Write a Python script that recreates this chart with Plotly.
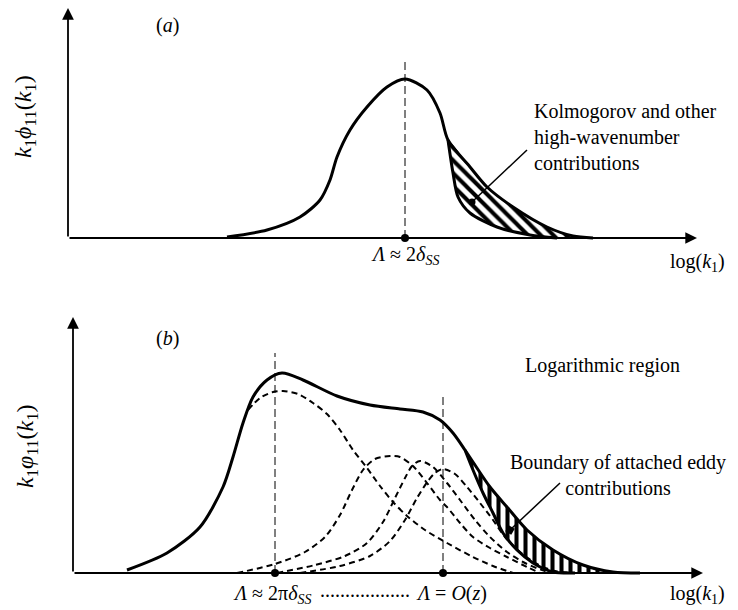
import plotly.graph_objects as go

# ---------------- data (schematic; arbitrary units) -------------
# panel (a): premultiplied spectrum, x = log(k1) position, y = amplitude
A_OUTER_X = [159, 199, 232, 252, 262, 269, 282, 299, 319, 337, 359, 372, 380, 402, 419, 445, 479, 505, 525]
A_OUTER_Y = [1, 8, 21, 38, 58, 81, 108, 131, 151, 159, 148, 125, 98, 71, 51, 31, 11, 2, 0]
A_INNER_X = [380, 385, 390, 402, 429, 462, 489]
A_INNER_Y = [98, 65, 41, 25, 11, 3, 0]
A_PEAK_X = 337
A_PEAK_TOP = 178

# panel (b)
B_OUTER_X = [54, 94, 127, 150, 160, 170, 180, 194, 209, 230, 264, 297, 327, 350, 367, 380, 392, 400, 417, 434, 454, 480, 510, 540, 567]
B_OUTER_Y = [3, 20, 46, 86, 116, 150, 176, 193, 200, 193, 177, 168, 164, 161, 153, 140, 123, 111, 86, 66, 43, 23, 8, 1, 0]
B_INNER_X = [392, 400, 410, 420, 430, 444, 460, 480, 502]
B_INNER_Y = [123, 103, 80, 60, 40, 23, 10, 1, 0]

B_LARGE_X = [175, 187, 200, 210, 225, 240, 254, 267, 280, 294, 307, 320, 334, 352, 374, 400, 420, 440]
B_LARGE_Y = [163, 175, 181, 182, 179, 170, 159, 143, 123, 105, 87, 71, 57, 43, 30, 16, 7, 0]
B_E1_X = [164, 202, 232, 252, 267, 279, 290, 302, 317, 327, 340, 354, 367, 374, 387, 400, 417, 434, 454, 467]
B_E1_Y = [0, 9, 21, 36, 58, 83, 103, 114, 117, 116, 107, 90, 73, 66, 50, 36, 25, 16, 6, 0]
B_E2_X = [204, 242, 272, 294, 310, 322, 332, 339, 347, 360, 374, 387, 402, 417, 434, 452, 472, 487]
B_E2_Y = [0, 8, 17, 30, 51, 75, 95, 107, 112, 106, 90, 73, 53, 36, 21, 10, 2, 0]
B_E3_X = [227, 267, 297, 317, 332, 344, 355, 362, 370, 382, 394, 407, 420, 432, 447, 464, 482, 502]
B_E3_Y = [0, 7, 17, 32, 53, 75, 92, 100, 104, 99, 86, 70, 53, 36, 21, 9, 2, 0]
B_MARK_X = [202, 370]
B_MARK_TOP = [220, 180]

# text
A_NOTE_LINES = ["Kolmogorov and other", "high-wavenumber", "contributions"]
B_NOTE_LINES = ["Boundary of attached eddy", "contributions"]

FONT = dict(family="Liberation Serif", size=20, color="black")
YFONT = dict(family="Liberation Serif", size=24, color="black")

fig = go.Figure()


def add_curve(x, y, xa, ya, width=3, dash=None):
    fig.add_trace(go.Scatter(x=x, y=y, xaxis=xa, yaxis=ya, mode="lines",
                             line=dict(color="black", width=width, dash=dash,
                                       shape="spline", smoothing=0.8),
                             hoverinfo="skip"))


def add_hatch(ox, oy, ix, iy, xa, ya, shape):
    k = ox.index(ix[0])
    px = ox[k:] + ix[::-1]
    py = oy[k:] + iy[::-1]
    fig.add_trace(go.Scatter(x=px, y=py, xaxis=xa, yaxis=ya, mode="lines", fill="toself",
                             line=dict(width=0, color="black", shape="spline", smoothing=0.8),
                             fillcolor="white",
                             fillpattern=dict(shape=shape, fgcolor="black", bgcolor="white",
                                              fgopacity=1, size=9, solidity=0.45),
                             hoverinfo="skip"))


# ---- panel (a)
add_hatch(A_OUTER_X, A_OUTER_Y, A_INNER_X, A_INNER_Y, "x", "y", "\\")
fig.add_trace(go.Scatter(x=[A_PEAK_X, A_PEAK_X], y=[0, A_PEAK_TOP], xaxis="x", yaxis="y", mode="lines",
                         line=dict(color="black", width=1, dash="8px,4px"), hoverinfo="skip"))
add_curve(A_OUTER_X, A_OUTER_Y, "x", "y", width=3)
add_curve(A_INNER_X, A_INNER_Y, "x", "y", width=3)
fig.add_trace(go.Scatter(x=[A_PEAK_X], y=[0], xaxis="x", yaxis="y", mode="markers",
                         marker=dict(color="black", size=8), hoverinfo="skip"))
# pointer (a)
fig.add_trace(go.Scatter(x=[459, 404], y=[88, 36], xaxis="x", yaxis="y", mode="lines",
                         line=dict(color="black", width=1.5), hoverinfo="skip"))
fig.add_trace(go.Scatter(x=[404], y=[36], xaxis="x", yaxis="y", mode="markers",
                         marker=dict(color="black", size=7), hoverinfo="skip"))

# ---- panel (b)
add_hatch(B_OUTER_X, B_OUTER_Y, B_INNER_X, B_INNER_Y, "x2", "y2", "|")
for mx, mt in zip(B_MARK_X, B_MARK_TOP):
    fig.add_trace(go.Scatter(x=[mx, mx], y=[0, mt], xaxis="x2", yaxis="y2", mode="lines",
                             line=dict(color="black", width=1, dash="8px,4px"), hoverinfo="skip"))
for ex, ey in [(B_LARGE_X, B_LARGE_Y), (B_E1_X, B_E1_Y), (B_E2_X, B_E2_Y), (B_E3_X, B_E3_Y)]:
    add_curve(ex, ey, "x2", "y2", width=2, dash="6px,4px")
add_curve(B_OUTER_X, B_OUTER_Y, "x2", "y2", width=3)
add_curve(B_INNER_X, B_INNER_Y, "x2", "y2", width=3)
fig.add_trace(go.Scatter(x=B_MARK_X, y=[0, 0], xaxis="x2", yaxis="y2", mode="markers",
                         marker=dict(color="black", size=8), hoverinfo="skip"))
fig.add_trace(go.Scatter(x=[487, 437], y=[90, 43], xaxis="x2", yaxis="y2", mode="lines",
                         line=dict(color="black", width=1.5), hoverinfo="skip"))
fig.add_trace(go.Scatter(x=[437], y=[43], xaxis="x2", yaxis="y2", mode="markers",
                         marker=dict(color="black", size=7, symbol="square", angle=30), hoverinfo="skip"))

ann = []


def arrow(xr, yr, x, y):
    ann.append(dict(x=x, y=y, ax=0, ay=0, xref=xr, yref=yr, axref=xr, ayref=yr, text="",
                    showarrow=True, arrowhead=2, arrowsize=1.3, arrowwidth=1.8, arrowcolor="black"))


def text(xr, yr, x, y, t, xanchor="center", angle=0, font=FONT, align="center"):
    ann.append(dict(x=x, y=y, xref=xr, yref=yr, text=t, showarrow=False, font=font,
                    xanchor=xanchor, yanchor="middle", textangle=angle, align=align))


# axes arrows
arrow("x", "y", 0, 230)
arrow("x", "y", 629, 0)
arrow("x2", "y2", 0, 256)
arrow("x2", "y2", 630, 0)

# panel (a) text
text("x", "y", 99, 213, "(<i>a</i>)")
text("x", "y", -43, 121, "<i>k</i><sub>1</sub><i>ϕ</i><sub>11</sub>(<i>k</i><sub>1</sub>)", angle=-90, font=YFONT)
text("x", "y", 337, -17, "<i>Λ</i> ≈ 2<i>δ</i><sub><i>SS</i></sub>")
text("x", "y", 629, -24, "log(<i>k</i><sub>1</sub>)")
text("x", "y", 464, 101, "<br>".join(A_NOTE_LINES), xanchor="left", align="left")

# panel (b) text
text("x2", "y2", 94, 235, "(<i>b</i>)")
text("x2", "y2", -46, 127, "<i>k</i><sub>1</sub><i>φ</i><sub>11</sub>(<i>k</i><sub>1</sub>)", angle=-90, font=YFONT)
text("x2", "y2", 529, 208, "Logarithmic region")
text("x2", "y2", 545, 98, "<br>".join(B_NOTE_LINES))
text("x2", "y2", 199, -21, "<i>Λ</i> ≈ 2π<i>δ</i><sub><i>SS</i></sub>")
text("x2", "y2", 292, -17, "..................")
text("x2", "y2", 378, -20, "<i>Λ</i> = <i>O</i>(<i>z</i>)")
text("x2", "y2", 624, -21, "log(<i>k</i><sub>1</sub>)")

# page shows the figure offset by the default 8px body margin, so the figure is
# drawn 8px smaller and its axis ranges shifted to keep the reference positions
W, H = 730, 602
hidden = dict(visible=False, showgrid=False, zeroline=False, fixedrange=True)
fig.update_layout(
    width=W, height=H,
    margin=dict(l=0, r=0, t=0, b=0),
    paper_bgcolor="white", plot_bgcolor="white",
    showlegend=False,
    xaxis=dict(domain=[0, 1], range=[-60, 670], anchor="y", **hidden),
    yaxis=dict(domain=[1 - 300 / H, 1], range=[-70, 230], anchor="x", **hidden),
    xaxis2=dict(domain=[0, 1], range=[-65, 665], anchor="y2", **hidden),
    yaxis2=dict(domain=[0, 302 / H], range=[-37, 265], anchor="x2", **hidden),
    annotations=ann,
)

fig.write_html("out.html")
